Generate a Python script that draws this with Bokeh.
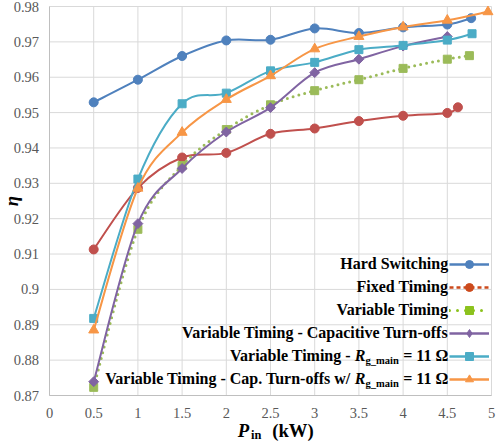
import numpy as np
from bokeh.plotting import figure
from bokeh.models import Range1d, Label, Legend, LegendItem, ColumnDataSource
from bokeh.embed import file_html
from bokeh.resources import INLINE

# ---------------- data ----------------
x_ticks = [0, 0.5, 1, 1.5, 2, 2.5, 3, 3.5, 4, 4.5, 5]
x_tick_labels = ["0", "0.5", "1", "1.5", "2", "2.5", "3", "3.5", "4", "4.5", "5"]
y_ticks = [0.87, 0.88, 0.89, 0.9, 0.91, 0.92, 0.93, 0.94, 0.95, 0.96, 0.97, 0.98]
y_tick_labels = ["0.87", "0.88", "0.89", "0.9", "0.91", "0.92", "0.93", "0.94",
                 "0.95", "0.96", "0.97", "0.98"]

hard_x = [0.5, 1, 1.5, 2, 2.5, 3, 3.5, 4, 4.5, 4.77]
hard_y = [0.9529, 0.9593, 0.9660, 0.9704, 0.9706, 0.9738, 0.9725, 0.9741, 0.9749, 0.9767]

fixed_x = [0.5, 1, 1.5, 2, 2.5, 3, 3.5, 4, 4.5, 4.62]
fixed_y = [0.9113, 0.9287, 0.9373, 0.9386, 0.9440, 0.9455, 0.9476, 0.9491, 0.9499, 0.9515]

var_x = [0.5, 1, 1.5, 2, 2.5, 3, 3.5, 4, 4.5, 4.75]
var_y = [0.8723, 0.9170, 0.9350, 0.9452, 0.9522, 0.9562, 0.9593, 0.9625, 0.9651, 0.9661]

varcap_x = [0.5, 1, 1.5, 2, 2.5, 3, 3.5, 4, 4.5]
varcap_y = [0.8739, 0.9186, 0.9342, 0.9445, 0.9514, 0.9613, 0.9651, 0.9688, 0.9715]

varrg_x = [0.5, 1, 1.5, 2, 2.5, 3, 3.5, 4, 4.5, 4.78]
varrg_y = [0.8918, 0.9312, 0.9525, 0.9555, 0.9618, 0.9642, 0.9678, 0.9690, 0.9705, 0.9723]

caprg_x = [0.5, 1, 1.5, 2, 2.5, 3, 3.5, 4, 4.5, 4.96]
caprg_y = [0.8885, 0.9286, 0.9444, 0.9537, 0.9604, 0.9680, 0.9715, 0.9742, 0.9761, 0.9785]

series_names = ["Hard Switching", "Fixed Timing", "Variable Timing",
                "Variable Timing - Capacitive Turn-offs",
                "Variable Timing - R g_main = 11 Ω",
                "Variable Timing - Cap. Turn-offs w/ R g_main = 11 Ω"]
x_title = ["P", "in", "(kW)"]
y_title = "η"

# ---------------- layout / styles ----------------
W, H = 501, 441
FL, FR, FT, FB = 49, 491, 6, 395          # plot-area edges in pixels
XMIN, XMAX = x_ticks[0], x_ticks[-1]
YMIN, YMAX = y_ticks[0], y_ticks[-1]
ppx = (FR - FL) / (XMAX - XMIN)
ppy = (FB - FT) / (YMAX - YMIN)


def px_x(px):
    return XMIN + (px - FL) / ppx


def px_y(py):
    return YMIN + (FB - py) / ppy


FONT = "Liberation Serif"
GRID = "#d9d9d9"
AXIS = "#bfbfbf"
TICK_TXT = "#595959"
series = [
    dict(x=hard_x, y=hard_y, color="#4f81bd", marker="circle", size=9, angle=0, dash="solid",
         lcolor="#4f81bd", ldash="solid", lmarker="circle"),
    dict(x=fixed_x, y=fixed_y, color="#c0504d", marker="circle", size=9, angle=0, dash="solid",
         lcolor="#cc4a1c", ldash="4 3", lmarker="circle"),
    dict(x=var_x, y=var_y, color="#9bbb59", marker="square", size=8, angle=0, dash="0 6",
         lcolor="#8cc21e", ldash="0 8", lmarker="square"),
    dict(x=varcap_x, y=varcap_y, color="#8064a2", marker="square", size=7, angle=np.pi / 4,
         dash="solid", lcolor="#8064a2", ldash="solid", lmarker="diamond"),
    dict(x=varrg_x, y=varrg_y, color="#4bacc6", marker="square", size=8, angle=0, dash="solid",
         lcolor="#4bacc6", ldash="solid", lmarker="square"),
    dict(x=caprg_x, y=caprg_y, color="#f79646", marker="triangle", size=10, angle=0,
         dash="solid", lcolor="#f79646", ldash="solid", lmarker="triangle"),
]


def smooth(xs, ys):
    """Bezier segments (Catmull-Rom style, like spreadsheet smoothing) through the points."""
    xs = np.asarray(xs, float)
    ys = np.asarray(ys, float)
    n = len(xs)
    xp = np.concatenate([[xs[0]], xs, [xs[-1]]])
    yp = np.concatenate([[ys[0]], ys, [ys[-1]]])
    return dict(
        x0=xs[:-1], y0=ys[:-1], x1=xs[1:], y1=ys[1:],
        cx0=xp[1:n] + (xp[2:n + 1] - xp[0:n - 1]) / 6.0,
        cy0=yp[1:n] + (yp[2:n + 1] - yp[0:n - 1]) / 6.0,
        cx1=xp[2:n + 1] - (xp[3:n + 2] - xp[1:n]) / 6.0,
        cy1=yp[2:n + 1] - (yp[3:n + 2] - yp[1:n]) / 6.0,
    )


# whole canvas is the frame; the plot area, axes and titles are drawn through its scales
p = figure(width=W, height=H, output_backend="svg", toolbar_location=None,
           x_range=Range1d(px_x(0), px_x(W)), y_range=Range1d(px_y(H), px_y(0)),
           x_axis_type=None, y_axis_type=None,
           min_border=0, min_border_left=0, min_border_right=0,
           min_border_top=0, min_border_bottom=0)
p.outline_line_color = None
p.background_fill_color = "white"
p.border_fill_color = "white"

# grid lines
nx, ny = len(x_ticks), len(y_ticks)
p.segment(x0=x_ticks, y0=[YMIN] * nx, x1=x_ticks, y1=[YMAX] * nx, line_color=GRID, line_width=1)
p.segment(x0=[XMIN] * ny, y0=y_ticks, x1=[XMAX] * ny, y1=y_ticks, line_color=GRID, line_width=1)
# axis lines
p.segment(x0=[XMIN, XMIN], y0=[YMIN, YMIN], x1=[XMIN, XMAX], y1=[YMAX, YMIN],
          line_color=AXIS, line_width=1)

# tick labels
p.text(x=x_ticks, y=[px_y(412.5)] * nx, text=x_tick_labels, text_font={"value": FONT},
       text_font_size="14.5px", text_color=TICK_TXT, text_align="center", text_baseline="middle")
p.text(x=[px_x(38.5)] * ny, y=y_ticks, text=y_tick_labels, text_font={"value": FONT},
       text_font_size="14.5px", text_color=TICK_TXT, text_align="right", text_baseline="middle")

items = []
for s, name in zip(series, series_names):
    dotted = s["dash"].startswith("0 ")
    src = ColumnDataSource(smooth(s["x"], s["y"]))
    p.bezier(x0="x0", y0="y0", x1="x1", y1="y1", cx0="cx0", cy0="cy0", cx1="cx1", cy1="cy1",
             source=src, line_color=s["color"], line_width=3 if dotted else 2,
             line_dash=s["dash"], line_cap="round" if dotted else "butt")
    p.scatter(s["x"], s["y"], marker=s["marker"], size=s["size"], angle=s["angle"],
              fill_color=s["color"], line_color=s["color"])
    # legend-only renderers (NaN data, nothing drawn in the plot)
    dummy = ColumnDataSource(dict(x=[np.nan], y=[np.nan]))
    ldotted = s["ldash"].startswith("0 ")
    lr = p.line("x", "y", source=dummy, line_color=s["lcolor"], line_width=3 if ldotted else 2.5,
                line_dash=s["ldash"], line_cap="round" if ldotted else "butt")
    mr = p.scatter("x", "y", source=dummy, marker=s["lmarker"],
                   fill_color=s["lcolor"], line_color=s["lcolor"])
    items.append(LegendItem(label=" ", renderers=[lr, mr]))

legend = Legend(items=items, location=(449, H - 389), orientation="vertical",
                glyph_width=40, glyph_height=20, spacing=3, padding=0, margin=0,
                label_standoff=0, label_width=0, label_height=0, label_text_font_size="1px",
                border_line_color=None, background_fill_alpha=0)
p.add_layout(legend)

# ---------------- legend texts ----------------
BOLD = {' ': 250, '=': 570, '1': 500, 'Ω': 768, 'g': 500, '_': 500, 'm': 833,
        'a': 500, 'i': 278, 'n': 556}
BOLDIT = {'R': 667, 'P': 611}


def tw(text, size, table):
    return sum(table.get(ch, 500) for ch in text) * size / 1000.0


def lab(text, xo, yo, size="16px", style="bold", align="right", x=XMAX, y=YMIN, **kw):
    p.add_layout(Label(x=x, y=y, x_offset=xo, y_offset=yo, text=text, text_font=FONT,
                       text_font_size=size, text_font_style=style, text_color="black",
                       text_align=align, text_baseline="middle", **kw))


right = -43.3
# visual centre of each legend row, in pixels above the bottom of the plot area
row_yo = [132.0, 109.0, 86.0, 63.0, 40.0, 17.0]
for i in range(4):
    lab(series_names[i], right, row_yo[i])
for i in (4, 5):
    prefix, rest = series_names[i].split(" R ")
    sub, eq = rest.split(" ", 1)
    lab(eq, right, row_yo[i])
    sub_r = right - tw(eq, 16, BOLD) - tw(" ", 16, BOLD)
    lab(sub, sub_r, row_yo[i] - 4.8, size="10.5px")
    r_r = sub_r - tw(sub, 10.5, BOLD)
    lab("R", r_r, row_yo[i], style="bold italic")
    pre_r = r_r - tw("R", 16, BOLDIT) - tw(" ", 16, BOLD)
    lab(prefix, pre_r, row_yo[i])

# ---------------- axis titles ----------------
xc = (XMIN + XMAX) / 2
lab(x_title[0], -32.7, -35.3, size="18.7px", style="bold italic", align="left", x=xc)
lab(x_title[1], -19.5, -39.0, size="12.4px", align="left", x=xc)
lab(x_title[2], 1.7, -35.3, size="18.7px", align="left", x=xc)

lab(y_title, 10.5 - FL, 0, size="18.7px", style="bold italic", align="center",
    x=XMIN, y=(YMIN + YMAX) / 2, angle=np.pi / 2)

open("out.html", "w").write(file_html(p, INLINE))
